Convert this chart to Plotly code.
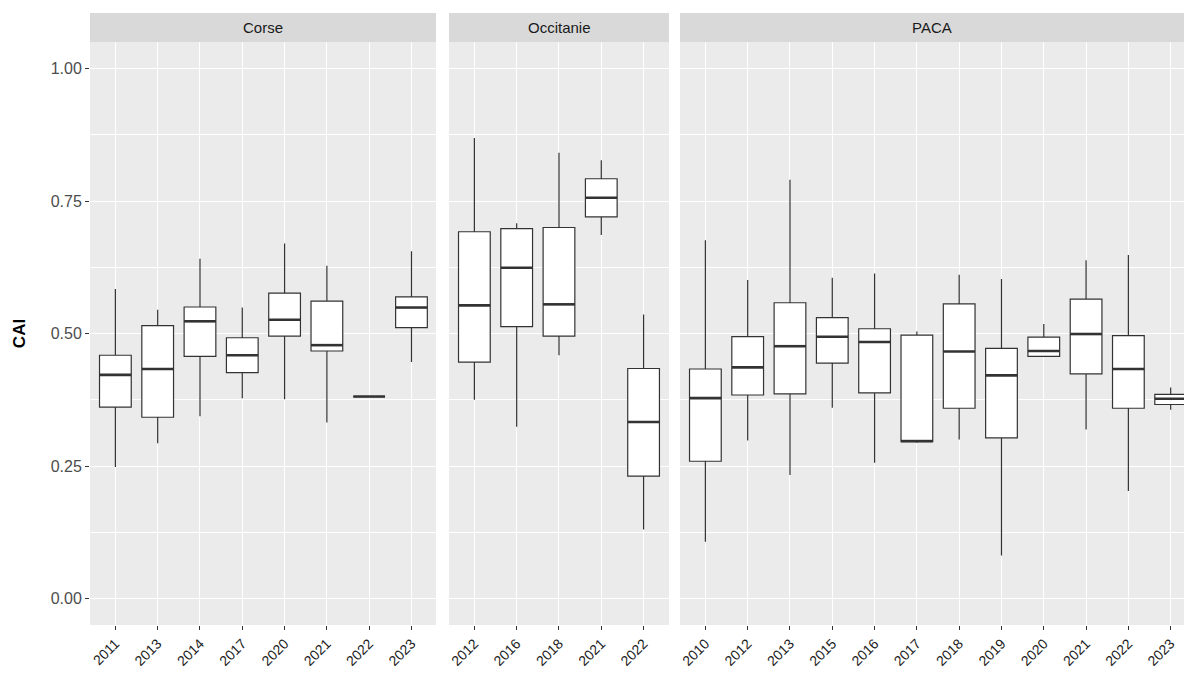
import plotly.graph_objects as go

W, H = 1184, 673

# ---------------- data ----------------
regions = ["Corse", "Occitanie", "PACA"]

corse_years = ["2011", "2013", "2014", "2017", "2020", "2021", "2022", "2023"]
corse_low = [0.248, 0.293, 0.344, 0.378, 0.376, 0.332, 0.381, 0.446]
corse_q1 = [0.361, 0.342, 0.457, 0.426, 0.495, 0.467, 0.381, 0.511]
corse_med = [0.422, 0.433, 0.523, 0.459, 0.526, 0.478, 0.381, 0.549]
corse_q3 = [0.459, 0.515, 0.550, 0.492, 0.576, 0.561, 0.381, 0.569]
corse_high = [0.584, 0.545, 0.641, 0.549, 0.670, 0.628, 0.381, 0.655]

occ_years = ["2012", "2016", "2018", "2021", "2022"]
occ_low = [0.375, 0.324, 0.459, 0.686, 0.130]
occ_q1 = [0.446, 0.513, 0.495, 0.720, 0.231]
occ_med = [0.553, 0.624, 0.555, 0.756, 0.333]
occ_q3 = [0.692, 0.698, 0.700, 0.792, 0.434]
occ_high = [0.869, 0.708, 0.841, 0.827, 0.536]

paca_years = ["2010", "2012", "2013", "2015", "2016", "2017", "2018", "2019",
              "2020", "2021", "2022", "2023"]
paca_low = [0.107, 0.298, 0.233, 0.360, 0.256, 0.294, 0.300, 0.081, 0.457, 0.319, 0.203, 0.356]
paca_q1 = [0.259, 0.384, 0.386, 0.444, 0.388, 0.296, 0.359, 0.303, 0.457, 0.424, 0.359, 0.366]
paca_med = [0.378, 0.436, 0.476, 0.494, 0.484, 0.297, 0.466, 0.421, 0.467, 0.499, 0.433, 0.377]
paca_q3 = [0.433, 0.494, 0.558, 0.530, 0.509, 0.497, 0.556, 0.472, 0.493, 0.565, 0.496, 0.385]
paca_high = [0.676, 0.601, 0.790, 0.605, 0.613, 0.504, 0.611, 0.603, 0.518, 0.638, 0.648, 0.398]

y_ticks = [0.0, 0.25, 0.5, 0.75, 1.0]
y_tick_text = ["0.00", "0.25", "0.50", "0.75", "1.00"]
y_minor = [0.125, 0.375, 0.625, 0.875]

panels = [
    (corse_years, corse_low, corse_q1, corse_med, corse_q3, corse_high),
    (occ_years, occ_low, occ_q1, occ_med, occ_q3, occ_high),
    (paca_years, paca_low, paca_q1, paca_med, paca_q3, paca_high),
]

# ---------------- layout geometry (pixels) ----------------
x_domains_px = [(90, 436), (449, 669), (680, 1184)]
plot_top, plot_bottom = 42, 625
strip_top = 13
step_px = 42.3
BOX_W = 0.75

FONT = "Liberation Sans, Arial, sans-serif"
LINE = "#333333"

fig = go.Figure()
layout = dict(
    width=W, height=H,
    margin=dict(l=0, r=0, t=0, b=0),
    paper_bgcolor="white",
    plot_bgcolor="#EBEBEB",
    showlegend=False,
    font=dict(family=FONT, color="#1A1A1A"),
    shapes=[], annotations=[],
)

y_dom = [(H - plot_bottom) / H, (H - plot_top) / H]

for k, (years, lo, q1, med, q3, hi) in enumerate(panels):
    n = len(years)
    idx = list(range(n))
    sfx = "" if k == 0 else str(k + 1)
    xa, ya = "x" + sfx, "y" + sfx
    fig.add_trace(go.Box(
        x=idx, q1=q1, median=med, q3=q3, lowerfence=lo, upperfence=hi,
        width=BOX_W, whiskerwidth=0, boxpoints=False,
        fillcolor="white", line=dict(color=LINE, width=1.2),
        xaxis=xa, yaxis=ya, hoverinfo="skip",
    ))
    # thicker median line, as in ggplot
    mx, my = [], []
    for i, m in zip(idx, med):
        mx += [i - BOX_W / 2, i + BOX_W / 2, None]
        my += [m, m, None]
    fig.add_trace(go.Scatter(
        x=mx, y=my, mode="lines", line=dict(color=LINE, width=2.6),
        xaxis=xa, yaxis=ya, hoverinfo="skip",
    ))

    x0p, x1p = x_domains_px[k]
    width_cats = (x1p - x0p) / step_px
    layout["xaxis" + sfx] = dict(
        domain=[x0p / W, x1p / W], anchor=ya,
        range=[-0.6, -0.6 + width_cats],
        tickmode="array", tickvals=idx, ticktext=years,
        tickangle=-45, tickfont=dict(size=14, color="#1A1A1A", family=FONT),
        ticks="outside", ticklen=4, tickcolor=LINE, tickwidth=1,
        showgrid=True, gridcolor="white", gridwidth=1.1,
        zeroline=False, showline=False, fixedrange=True, automargin=False,
    )
    yax = dict(
        domain=y_dom, anchor=xa,
        range=[-0.05, 1.05],
        tickmode="array", tickvals=y_ticks, ticktext=y_tick_text,
        showgrid=True, gridcolor="white", gridwidth=1.1,
        minor=dict(tickvals=y_minor, showgrid=True, gridcolor="white", gridwidth=0.55, ticks=""),
        zeroline=False, showline=False, fixedrange=True, automargin=False,
    )
    if k == 0:
        yax.update(
            ticks="outside", ticklen=4, tickcolor=LINE, tickwidth=1,
            tickfont=dict(size=16, color="#4D4D4D", family=FONT),
            title=dict(text="<b>CAI</b>", font=dict(size=17, color="#000000", family=FONT), standoff=20),
        )
    else:
        yax.update(showticklabels=False, ticks="", matches="y")
    layout["yaxis" + sfx] = yax

    # facet strip
    layout["shapes"].append(dict(
        type="rect", xref="paper", yref="paper",
        x0=x0p / W, x1=x1p / W, y0=(H - plot_top) / H, y1=(H - strip_top) / H,
        fillcolor="#D9D9D9", line=dict(width=0), layer="below",
    ))
    layout["annotations"].append(dict(
        xref="paper", yref="paper",
        x=(x0p + x1p) / 2 / W, y=(H - (plot_top + strip_top) / 2) / H,
        text=regions[k], showarrow=False, xanchor="center", yanchor="middle",
        font=dict(size=15, color="#1A1A1A", family=FONT),
    ))

fig.update_layout(**layout)
fig.write_html(
    "out.html",
    config={"displayModeBar": False},
    post_script="document.body.style.margin='0';document.body.style.overflow='hidden';",
)
